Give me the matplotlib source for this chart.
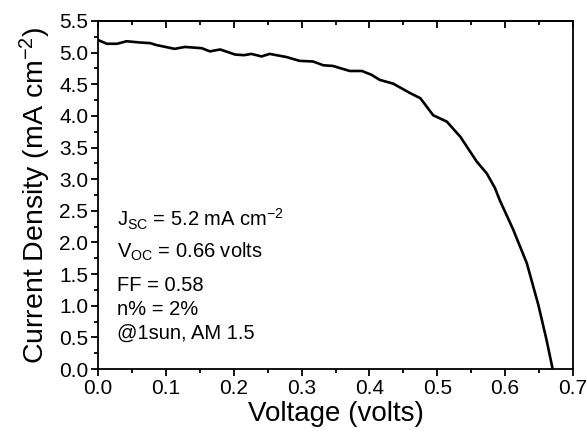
import matplotlib
matplotlib.use("Agg")
import matplotlib.pyplot as plt
from matplotlib.ticker import MultipleLocator

plt.rcParams.update({
    "font.family": ["Liberation Sans", "DejaVu Sans"],
    "mathtext.default": "regular",
})

# J-V curve
voltage = [0.000, 0.013, 0.028, 0.042, 0.062, 0.077, 0.086, 0.113, 0.128, 0.153,
           0.165, 0.180, 0.202, 0.215, 0.226, 0.241, 0.253, 0.278, 0.297, 0.317,
           0.332, 0.346, 0.371, 0.389, 0.403, 0.415, 0.435, 0.460, 0.475, 0.494,
           0.514, 0.534, 0.558, 0.573, 0.585, 0.592, 0.612, 0.632, 0.649, 0.661,
           0.670]
current = [5.20, 5.14, 5.14, 5.18, 5.16, 5.15, 5.12, 5.06, 5.09, 5.07,
           5.02, 5.05, 4.97, 4.96, 4.98, 4.94, 4.98, 4.93, 4.87, 4.86,
           4.80, 4.79, 4.71, 4.71, 4.65, 4.57, 4.51, 4.36, 4.28, 4.01,
           3.91, 3.67, 3.28, 3.09, 2.86, 2.67, 2.20, 1.67, 1.01, 0.46,
           0.00]

notes = [r"J$_{SC}$ = 5.2 mA cm$^{-2}$",
         r"V$_{OC}$ = 0.66 volts",
         "FF = 0.58",
         "n% = 2%",
         "@1sun, AM 1.5"]
note_baselines_px = [227, 258, 291, 315, 339]

fig = plt.figure(figsize=(5.87, 4.36), dpi=100)
ax = fig.add_axes([98 / 587, 1 - 369 / 436, 475 / 587, 348 / 436])

ax.plot(voltage, current, color="black", lw=1.9, solid_joinstyle="round")

ax.set_xlim(0, 0.7)
ax.set_ylim(0, 5.5)
ax.xaxis.set_major_locator(MultipleLocator(0.1))
ax.xaxis.set_minor_locator(MultipleLocator(0.05))
ax.yaxis.set_major_locator(MultipleLocator(0.5))
ax.yaxis.set_minor_locator(MultipleLocator(0.25))
ax.xaxis.set_major_formatter(lambda v, p: f"{v:.1f}")
ax.yaxis.set_major_formatter(lambda v, p: f"{v:.1f}")

for s in ax.spines.values():
    s.set_linewidth(1.3)
ax.tick_params(which="both", direction="out", top=False, right=False,
               labelsize=15, width=1.3, pad=2)
ax.tick_params(which="major", length=5)
ax.tick_params(which="minor", length=3)

# inward ticks along the top edge
sec = ax.secondary_xaxis("top")
sec.xaxis.set_major_locator(MultipleLocator(0.1))
sec.xaxis.set_minor_locator(MultipleLocator(0.05))
sec.tick_params(which="both", direction="in", labeltop=False, width=1.3)
sec.tick_params(which="major", length=5)
sec.tick_params(which="minor", length=3)
sec.spines["top"].set_linewidth(1.3)

ax.set_xlabel("Voltage (volts)", fontsize=20, labelpad=2)
ax.set_ylabel(r"Current Density (mA cm$^{-2}$)", fontsize=20.5, labelpad=4)

for txt, yb in zip(notes, note_baselines_px):
    ax.text(0.028, (369 - yb) / 348 * 5.5, txt, fontsize=14.5,
            va="baseline", ha="left")

fig.savefig("out.png", dpi=100)
